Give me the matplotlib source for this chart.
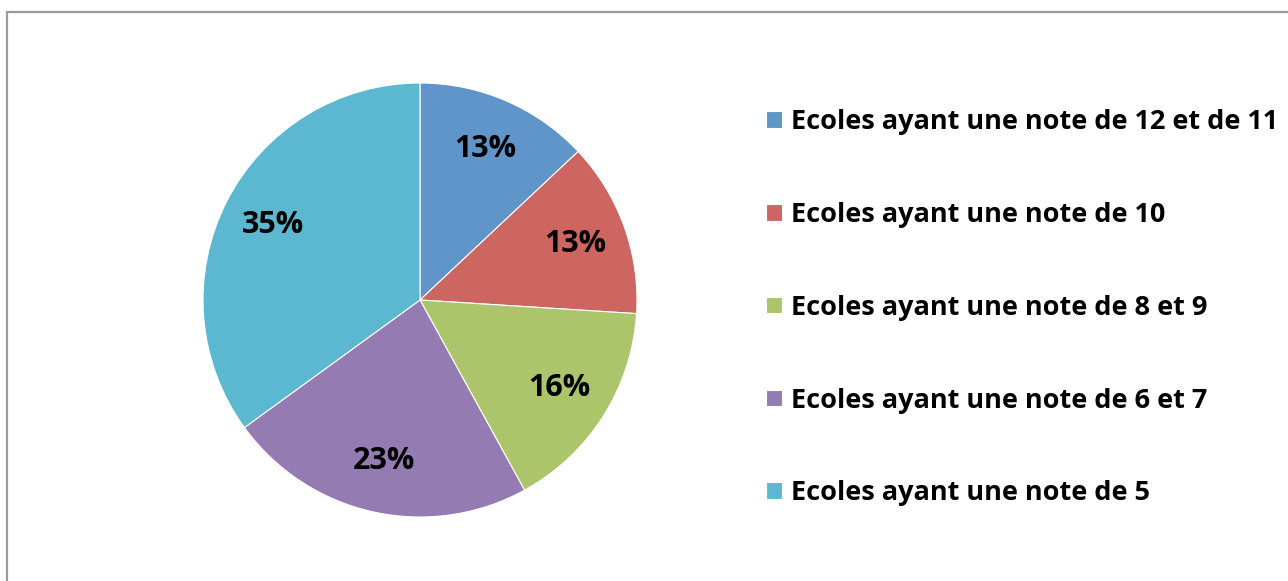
import matplotlib.pyplot as plt
from matplotlib.patches import Rectangle

# Données du graphique
categories = [
    "Ecoles ayant une note de 12 et de 11",
    "Ecoles ayant une note de 10",
    "Ecoles ayant une note de 8 et 9",
    "Ecoles ayant une note de 6 et 7",
    "Ecoles ayant une note de 5",
]
pourcentages = [13, 13, 16, 23, 35]
couleurs = ["#6095CA", "#CD6660", "#ACC46A", "#947BB2", "#5BB8D0"]

plt.rcParams['font.family'] = ['Open Sans', 'DejaVu Sans']

fig = plt.figure(figsize=(12.88, 5.81), dpi=100)

# Cadre gris (coupé à droite et en bas)
fig.patches.append(Rectangle((7 / 1288, -0.1), 1.2, 1 - 12 / 581 + 0.1,
                             transform=fig.transFigure, fill=False,
                             edgecolor="#9a9a9a", linewidth=1.6))

# Camembert
ax = fig.add_axes([203 / 1288, 64 / 581, 434 / 1288, 434 / 581])
wedges, textes, autotextes = ax.pie(
    pourcentages, colors=couleurs, startangle=90, counterclock=False,
    autopct="%d%%", pctdistance=0.76,
    wedgeprops=dict(edgecolor="white", linewidth=0.8),
    textprops=dict(fontsize=22, fontweight="bold", color="black"))
ax.set_xlim(-1, 1)
ax.set_ylim(-1, 1)
ax.set_aspect("equal")

# Légende
fig.legend(wedges, categories, loc="upper left",
           bbox_to_anchor=(755 / 1288, 1 - 98 / 581),
           frameon=False, prop=dict(size=19.5, weight="bold"),
           handlelength=0.58, handleheight=0.58, handletextpad=0.36,
           labelspacing=2.47, borderaxespad=0)

fig.savefig("out.png", dpi=100)
